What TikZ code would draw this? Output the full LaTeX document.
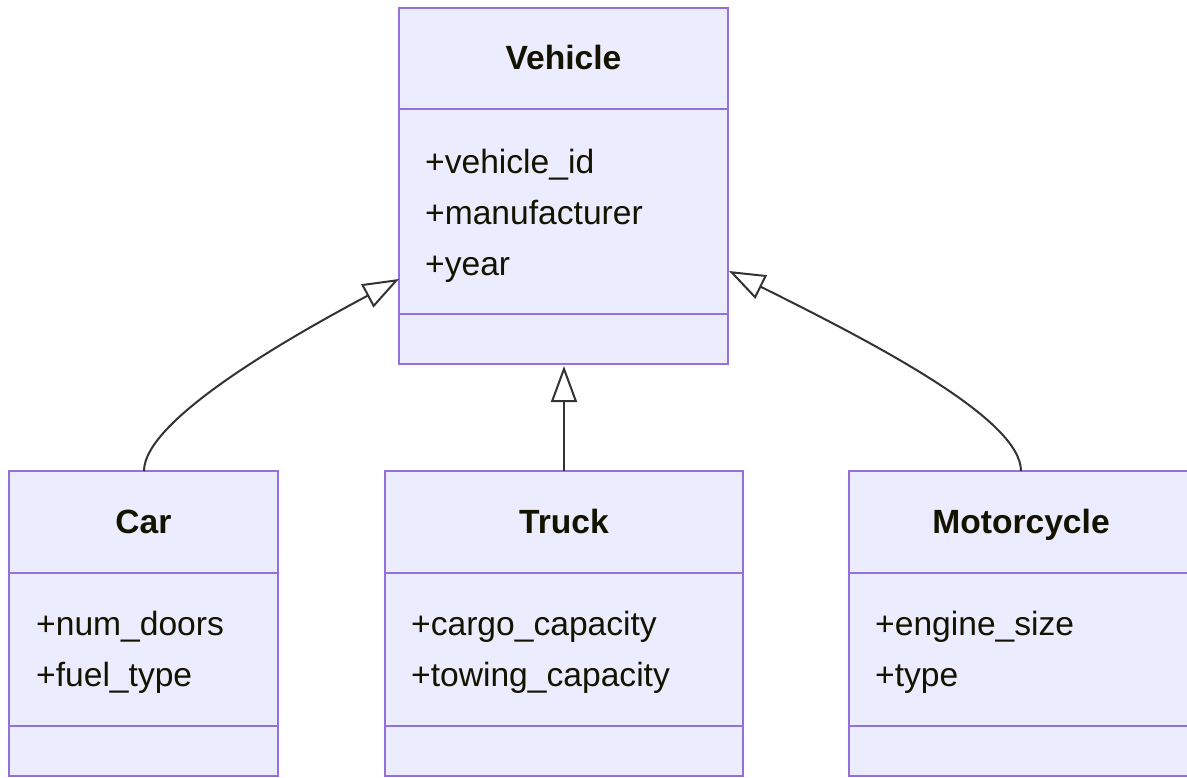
\documentclass[tikz,border=0pt]{standalone}
\usepackage{fontspec}
\setmainfont{Liberation Sans}
\usetikzlibrary{arrows.meta}
\definecolor{boxfill}{HTML}{ECECFF}
\definecolor{boxline}{HTML}{9370DB}
\definecolor{txt}{HTML}{131300}
\definecolor{conn}{HTML}{333333}
\begin{document}
\begin{tikzpicture}[x=1pt,y=-1pt,
  classbox/.style={draw=boxline, fill=boxfill, line width=2.8pt, inner sep=0pt, outer sep=0pt, rectangle},
  divider/.style={draw=boxline, line width=2.8pt},
  title/.style={font=\fontsize{33.6}{40}\selectfont\bfseries, text=txt, anchor=base, inner sep=0pt},
  attr/.style={font=\fontsize{33.6}{40}\selectfont, text=txt, anchor=base west, inner sep=0pt},
  inherit/.style={draw=conn, line width=2pt, -{Triangle[open, length=36pt, width=26pt, line width=2pt]}}]
\useasboundingbox (0,0) rectangle (1187,778);
% boxes
\node[classbox, minimum width=329pt, minimum height=356pt] (veh) at (563.5,186) {};
\node[classbox, minimum width=269pt, minimum height=305pt] (car) at (143.5,623.5) {};
\node[classbox, minimum width=358pt, minimum height=305pt] (truck) at (564,623.5) {};
\node[classbox, minimum width=344pt, minimum height=305pt] (moto) at (1021,623.5) {};
% dividers
\draw[divider] (399,109) -- (728,109);
\draw[divider] (399,314) -- (728,314);
\draw[divider] (9,573) -- (278,573);
\draw[divider] (9,726) -- (278,726);
\draw[divider] (385,573) -- (743,573);
\draw[divider] (385,726) -- (743,726);
\draw[divider] (849,573) -- (1193,573);
\draw[divider] (849,726) -- (1193,726);
% titles
\node[title] (vehT) at (563.5,70) {Vehicle};
\node[title] (carT) at (143.5,533) {Car};
\node[title] (truckT) at (564,533) {Truck};
\node[title] (motoT) at (1021,533) {Motorcycle};
% attributes
\node[attr] (v1) at (425,174) {+vehicle\_id};
\node[attr] (v2) at (425,225) {+manufacturer};
\node[attr] (v3) at (425,276) {+year};
\node[attr] (c1) at (36,635) {+num\_doors};
\node[attr] (c2) at (36,686) {+fuel\_type};
\node[attr] (t1) at (411,635) {+cargo\_capacity};
\node[attr] (t2) at (411,686) {+towing\_capacity};
\node[attr] (m1) at (875,635) {+engine\_size};
\node[attr] (m2) at (875,686) {+type};
% connector endpoints
\coordinate (carTip) at (399,279);
\coordinate (motoTip) at (729,271);
\coordinate (truckTip) at (564,366);
\draw[inherit] (car.north -| 144,0) .. controls (144,420) and (290,337) .. (carTip);
\draw[inherit] (truck.north) -- (truckTip);
\draw[inherit] (moto.north) .. controls (1021,420) and (880,346) .. (motoTip);
\end{tikzpicture}
\end{document}
